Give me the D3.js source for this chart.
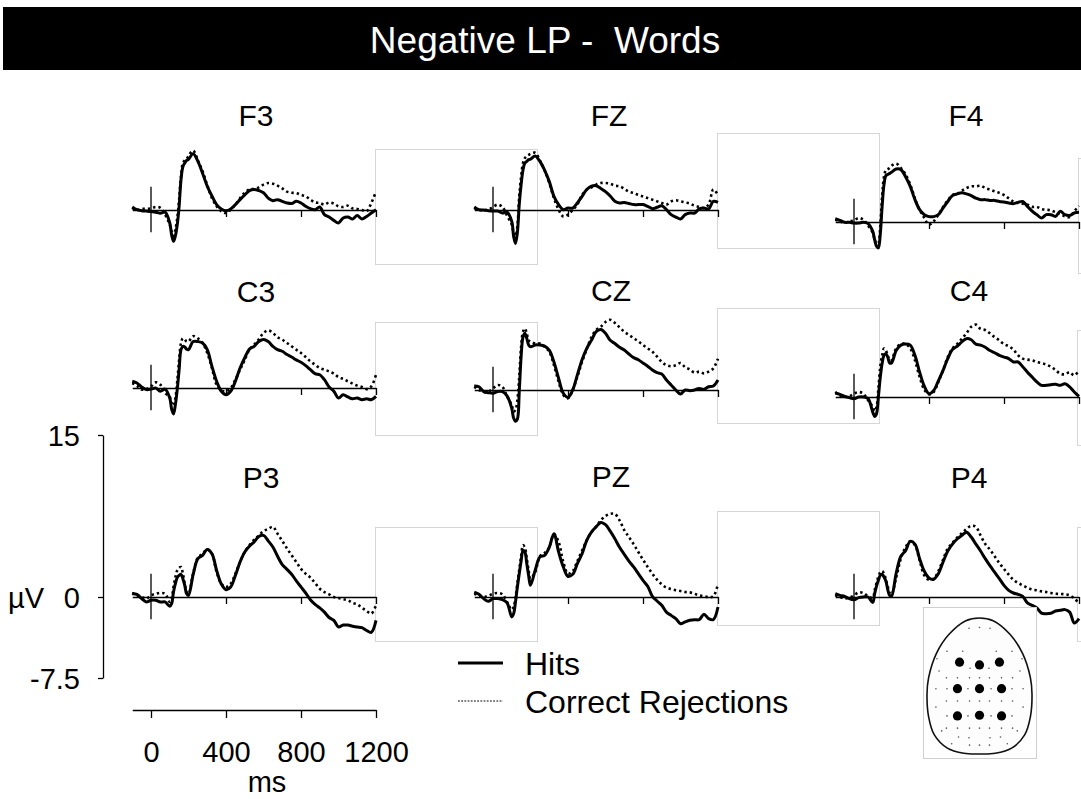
<!DOCTYPE html>
<html>
<head>
<meta charset="utf-8">
<script src="https://cdn.jsdelivr.net/npm/d3@7"></script>
<style>
  body { margin: 0; background: #fff; }
  svg { display: block; }
  text { font-family: "Liberation Sans", Arial, Helvetica, sans-serif; fill: #000; }
</style>
</head>
<body>
<svg id="chart" width="1081" height="799"></svg>
<script>
// ---- Data ---------------------------------------------------------------
const titleText = "Negative LP -  Words";
const seriesNames = ["Hits", "Correct Rejections"];

// sample times (ms) shared by every waveform
const times = [-100,-75,-50,-25,0,25,50,75,
  100,110,120,130,140,150,160,170,180,190,200,
  225,250,275,300,325,350,375,400,425,450,475,500,525,550,575,600,
  625,650,675,700,725,750,775,800,825,850,875,900,925,950,975,1000,
  1025,1050,1075,1100,1125,1150,1175,1200];

// grand-average amplitudes (µV)
const hitsF3 = [0.28,0.03,-0.06,-0.1,-0.15,-0.2,-0.3,-0.2, -1.2,-2.3,-2.9,-2.4,-1.36,0.34,2.8,4.0,4.35,4.6,4.7, 5.2,4.5,3.4,2.2,1.3,0.5,0.1,-0.06, 0.1,0.5,0.96,1.4,1.8,1.9,1.8,1.6, 1.1,0.86,0.96,0.8,0.65,0.6,0.8,0.65, 0.34,0.12,0.03,0.28,-0.43,-0.65,-0.96,-1.2, -0.74,-0.65,-0.83,-0.52,-0.83,-0.6,-0.28,0.03];
const crF3 = [0.2,0.0,0.1,0.1,0.15,0.28,0.2,-0.43, -1.36,-2.0,-2.4,-1.8,-0.74,0.96,3.1,4.35,4.6,4.7,5.0, 5.5,4.6,3.6,2.3,1.1,0.34,-0.12,-0.28, 0.03,0.5,1.1,1.6,1.9,1.95,2.1,2.35, 2.5,2.44,2.25,2.0,1.7,1.6,1.57,1.4, 1.26,0.96,0.7,0.65,0.5,0.7,0.6,0.34, 0.28,0.4,0.15,0.1,0.0,-0.12,0.65,1.7];

const hitsFZ = [0.28,0.03,0.0,-0.06,-0.1,-0.1,-0.28,-0.2, -1.05,-2.45,-3.1,-2.1,0.5,2.35,3.7,4.35,4.5,4.66,4.7, 5.0,4.5,3.7,2.65,1.27,0.5,0.03,0.18, 0.18,0.65,1.27,1.9,2.2,2.25,2.0,1.7, 1.3,0.8,0.65,0.7,0.6,0.5,0.5,0.5, 0.34,0.12,0.25,0.4,0.03,-0.43,-0.65,-0.83, -0.43,-0.28,-0.28,0.1,0.18,0.1,0.8,0.7];
const crFZ = [0.18,0.0,0.0,0.03,0.28,0.5,0.28,-0.52, -1.36,-2.1,-2.4,-1.5,1.27,3.1,4.35,4.8,5.0,5.1,5.2, 5.3,4.6,3.7,2.5,1.1,0.03,-0.6,-0.43, 0.0,0.5,1.4,1.9,2.1,2.35,2.5,2.5, 2.44,2.25,2.2,1.95,1.7,1.57,1.4,1.26, 1.1,0.96,0.8,0.65,0.5,0.8,0.9,0.8, 0.7,0.6,0.4,0.28,0.18,0.5,1.9,1.4];

const hitsF4 = [0.3,0.15,-0.03,-0.03,-0.1,-0.1,-0.03,-0.15, -0.87,-1.64,-2.25,-2.4,-1.17,1.45,3.46,4.3,4.4,4.5,4.6, 4.9,4.85,4.2,3.3,2.07,1.14,0.68,0.5, 0.5,0.68,1.3,1.9,2.44,2.6,2.7,2.6, 2.44,2.2,2.07,2.07,2.0,2.0,1.9,1.85, 1.76,1.7,1.82,1.9,1.45,1.0,0.68,0.37, 0.68,0.68,0.52,1.0,0.68,0.6,0.83,0.9];
const crF4 = [0.2,0.06,-0.1,0.06,0.15,0.37,0.2,-0.34, -1.0,-1.6,-2.0,-1.95,-0.4,2.4,4.2,4.8,4.9,5.0,5.2, 5.4,5.0,4.4,3.46,2.2,1.14,0.37,-0.25, 0.06,0.68,1.4,2.0,2.5,2.6,2.9,3.15, 3.3,3.3,3.36,3.15,3.0,2.84,2.7,2.5, 2.2,1.9,1.76,1.7,1.6,1.4,1.4,1.2, 1.14,1.08,0.9,0.77,0.52,0.46,1.0,1.5];

const hitsC3 = [0.62,0.46,0.1,-0.15,-0.1,0.0,-0.3,-0.1, -0.93,-1.95,-2.4,-1.54,-0.15,1.7,3.55,3.86,3.8,3.6,3.55, 4.3,4.3,4.17,3.55,2.0,0.62,-0.3,-0.62, -0.3,0.62,1.85,2.8,3.6,3.86,4.3,4.48, 4.3,3.86,3.55,3.4,3.1,2.87,2.6,2.38, 2.07,1.7,1.33,1.23,0.77,0.1,-0.3,-0.93, -0.62,-0.83,-1.0,-0.93,-1.08,-1.0,-1.08,-0.77];
const crC3 = [0.46,0.2,-0.15,-0.1,0.15,0.52,0.3,-0.46, -0.83,-1.4,-1.64,-0.93,0.62,2.6,4.17,4.6,4.5,4.3,4.3, 4.8,4.6,4.17,3.24,1.85,0.3,-0.2,-0.3, 0.0,0.77,1.7,2.6,3.55,4.0,4.5,5.1, 5.34,5.1,4.7,4.48,4.17,3.86,3.55,3.24, 2.87,2.47,2.16,1.85,1.7,1.54,1.33,1.0, 0.83,0.62,0.4,0.22,0.1,-0.1,0.15,1.23];

const hitsCZ = [0.37,0.3,-0.15,-0.25,-0.3,-0.15,-0.15,-0.55, -1.7,-2.6,-2.9,-2.7,-0.15,3.1,4.9,5.25,4.8,4.17,4.0, 4.17,4.17,4.07,3.7,2.6,1.08,-0.3,-0.68, 0.0,1.4,2.8,3.86,4.6,5.4,5.6,5.25, 4.6,4.3,3.95,3.7,3.33,3.0,2.8,2.5, 2.2,1.85,1.6,1.48,0.93,0.46,0.0,-0.37, 0.0,-0.06,0.0,0.15,0.06,0.3,0.37,0.93];
const crCZ = [0.3,0.0,-0.15,-0.15,0.15,0.46,0.3,-0.6, -1.4,-2.0,-1.85,-0.93,1.23,4.0,5.4,5.7,5.25,4.6,4.5, 4.3,4.3,4.0,3.55,2.3,0.77,-0.46,-0.77, 0.0,1.23,2.6,3.8,4.9,5.55,5.86,6.3, 6.5,6.2,5.8,5.4,5.1,4.8,4.5,4.17, 3.86,3.55,3.1,2.6,2.3,2.2,2.3,2.5, 2.1,1.9,1.6,1.7,1.54,1.7,2.0,2.9];

const hitsC4 = [0.37,0.25,0.06,-0.06,-0.15,0.0,0.0,-0.15, -1.4,-1.8,-1.54,0.0,1.8,3.1,3.86,4.0,3.7,3.15,3.15, 4.3,4.8,4.9,4.8,3.86,2.3,1.0,0.3, 0.6,1.5,2.47,3.55,4.4,4.7,5.1,5.4, 5.3,4.9,4.8,4.6,4.3,4.1,3.86,3.7, 3.55,3.24,3.24,2.8,2.3,1.85,1.4,1.08, 1.08,1.14,1.17,1.08,1.23,0.93,0.46,0.06];
const crC4 = [0.46,0.15,0.0,0.06,0.3,0.46,0.3,-0.3, -0.93,-1.3,-0.93,0.77,2.8,3.86,4.5,4.3,3.86,3.4,3.4, 4.5,4.9,4.9,4.5,3.4,1.85,0.68,0.25, 0.46,1.4,2.47,3.7,4.5,4.9,5.4,5.9, 6.5,6.7,6.3,6.2,5.9,5.55,5.25,4.9, 4.7,4.4,3.86,3.55,3.46,3.4,3.24,3.15, 3.0,2.8,2.5,2.16,2.1,2.3,2.0,2.47];

const hitsP3 = [0.3,0.25,-0.15,-0.46,-0.3,-0.3,-0.46,-0.46, -0.86,-0.62,0.46,1.23,1.8,2.0,2.1,1.7,1.08,0.3,0.15, 2.1,3.55,3.86,4.4,4.0,2.47,1.2,0.68, 0.93,2.0,3.24,4.17,4.7,5.1,5.6,5.7, 5.2,4.63,3.77,3.0,2.56,2.1,1.5,0.93, 0.37,-0.25,-0.68,-1.0,-1.4,-1.9,-2.16,-2.78, -2.6,-2.6,-2.7,-2.78,-2.84,-3.1,-3.27,-2.16];
const crP3 = [0.37,0.15,0.0,-0.15,0.15,0.3,0.37,0.3, -0.46,-0.15,0.93,1.85,2.47,2.7,2.78,2.16,1.23,0.46,0.3, 2.2,3.64,4.0,4.4,4.0,2.3,1.23,0.93, 1.23,2.16,3.24,4.17,4.8,5.3,5.7,6.1, 6.3,6.5,5.86,5.2,4.5,3.86,3.24,2.6, 2.16,1.8,1.3,0.77,0.46,0.25,0.0,-0.1, -0.2,-0.3,-0.55,-0.68,-1.0,-1.3,-1.54,-0.77];

const hitsPZ = [0.46,0.25,-0.15,-0.4,-0.15,-0.15,-0.25,-0.55, -1.85,-1.54,-0.46,0.93,2.16,3.33,4.3,4.17,3.1,2.0,1.08, 2.47,3.7,3.86,4.6,5.86,4.17,2.78,1.9, 2.1,3.1,4.0,5.25,6.0,6.5,6.9,6.7, 6.1,5.4,4.6,3.95,3.33,2.78,2.16,1.54, 1.0,0.06,-0.37,-0.77,-1.4,-1.7,-2.0,-2.47, -2.3,-2.16,-2.1,-2.1,-1.6,-2.0,-2.1,-0.93];
const crPZ = [0.3,0.15,0.0,0.12,0.3,0.37,0.25,-0.46, -1.17,-0.93,-0.06,1.23,2.53,3.77,4.8,4.57,3.55,2.47,1.7, 2.3,3.77,4.07,4.6,5.8,5.1,3.24,2.16, 2.4,3.33,4.3,5.25,6.0,6.5,7.1,7.5, 7.7,7.7,7.1,6.2,5.55,4.9,4.17,3.46, 2.78,2.16,1.6,1.17,0.86,0.74,0.62,0.55, 0.46,0.43,0.3,0.15,0.06,0.0,0.06,1.23];

const hitsP4 = [0.3,0.15,0.06,-0.15,-0.25,-0.06,0.0,0.0, -0.5,0.3,1.0,1.54,2.0,2.1,1.85,1.48,0.68,0.15,0.06, 2.2,3.77,4.3,5.15,4.9,3.55,2.38,1.76, 1.64,2.16,3.24,4.26,4.9,5.37,5.7,6.0, 5.55,4.9,4.26,3.55,2.9,2.3,1.7,1.08, 0.62,0.37,0.25,0.06,-0.55,-0.77,-1.0,-1.5, -1.54,-1.5,-1.3,-1.23,-1.17,-1.4,-2.4,-2.0];
const crP4 = [0.15,0.0,-0.15,-0.06,0.15,0.43,0.37,0.06, -0.06,0.62,1.3,1.9,2.28,2.4,2.16,1.6,0.98,0.37,0.25, 1.8,3.55,4.6,5.15,4.8,3.4,2.0,1.6, 1.7,2.4,3.46,4.5,5.0,5.5,5.9,6.3, 6.6,6.5,5.7,4.9,4.4,3.77,3.15,2.6, 2.07,1.6,1.3,1.08,0.86,0.7,0.62,0.52, 0.46,0.37,0.3,0.28,0.25,0.15,-0.15,-0.55];

// axis ticks
const timeTicks = [0, 400, 800, 1200];
const ampTicks = [-7.5, 0, 15];

// electrode montage in head-relative units (-1..1); the nine recorded sites are large
const headOutline = [[0,-1],[0.26,-0.96],[0.58,-0.76],[0.82,-0.48],[0.97,-0.12],[1,0.12],[0.97,0.45],[0.86,0.72],[0.62,0.91],[0.3,0.99],[0,1],
  [-0.3,0.99],[-0.62,0.91],[-0.86,0.72],[-0.97,0.45],[-1,0.12],[-0.97,-0.12],[-0.82,-0.48],[-0.58,-0.76],[-0.26,-0.96]];
const siteElectrodes = [[-0.38,-0.35],[0,-0.31],[0.38,-0.35],[-0.42,0.04],[0,0.04],[0.42,0.04],[-0.42,0.44],[0,0.43],[0.42,0.44]];
const otherElectrodes = [[-0.2,-0.85],[0,-0.86],[0.2,-0.85],
  [-0.62,-0.51],[-0.32,-0.51],[0.32,-0.51],[0.62,-0.51],[-0.81,-0.4],[0.81,-0.4],
  [-0.18,-0.26],[0.18,-0.26],[-0.77,-0.22],[0.77,-0.22],
  [-0.63,-0.12],[-0.42,-0.12],[-0.19,-0.12],[0,-0.12],[0.19,-0.12],[0.42,-0.12],[0.63,-0.12],
  [-0.83,0.04],[-0.62,0.04],[-0.22,0.04],[0.22,0.04],[0.62,0.04],[0.83,0.04],
  [-0.63,0.22],[-0.42,0.22],[-0.19,0.22],[0,0.22],[0.19,0.22],[0.42,0.22],[0.63,0.22],
  [-0.83,0.31],[0.83,0.31],[-0.62,0.44],[-0.22,0.44],[0.22,0.44],[0.62,0.44],
  [-0.63,0.62],[-0.42,0.62],[-0.19,0.62],[0,0.62],[0.19,0.62],[0.42,0.62],[0.63,0.62],
  [-0.72,0.66],[0.72,0.66],[-0.4,0.75],[-0.2,0.76],[0.2,0.76],[0.4,0.75],
  [-0.53,0.85],[0.53,0.85],[-0.19,0.87],[0,0.87],[0.19,0.87]];

// ---- Layout -------------------------------------------------------------
const PX_PER_MS = 0.1875;
const PX_PER_UV = 10.8;

const panels = [
  { name: "F3", hits: hitsF3, cr: crF3, x0: 151, y0: 210, tx: 256, ty: 126 },
  { name: "FZ", hits: hitsFZ, cr: crFZ, x0: 493, y0: 210, tx: 609, ty: 126 },
  { name: "F4", hits: hitsF4, cr: crF4, x0: 854, y0: 222, tx: 966, ty: 126 },
  { name: "C3", hits: hitsC3, cr: crC3, x0: 151, y0: 388, tx: 256, ty: 302 },
  { name: "CZ", hits: hitsCZ, cr: crCZ, x0: 493, y0: 390, tx: 611, ty: 301 },
  { name: "C4", hits: hitsC4, cr: crC4, x0: 854, y0: 397, tx: 969, ty: 301 },
  { name: "P3", hits: hitsP3, cr: crP3, x0: 151, y0: 597, tx: 261, ty: 488 },
  { name: "PZ", hits: hitsPZ, cr: crPZ, x0: 493, y0: 597, tx: 611, ty: 487 },
  { name: "P4", hits: hitsP4, cr: crP4, x0: 854, y0: 597, tx: 969, ty: 488 }
];

// faint empty frames left around the panel grid
const frames = [
  [375,149,162,115],[717,133,162,115],[1078,158,20,115],
  [375,322,162,113],[717,308,162,115],[1077,330,20,115],
  [375,527,162,114],[717,511,162,114],[1077,527,20,114]
];

const FONT = "\"Liberation Sans\", Arial, sans-serif";
const svg = d3.select("#chart");
svg.append("rect").attr("width", 1081).attr("height", 799).attr("fill", "#fff");

// title bar
svg.append("rect").attr("x", 3).attr("y", 7).attr("width", 1078).attr("height", 63).attr("fill", "#000");
svg.append("text")
  .attr("x", 545).attr("y", 53)
  .attr("text-anchor", "middle")
  .style("font-size", "37px").style("fill", "#fff").style("white-space", "pre")
  .text(titleText);

// frames
svg.append("g").selectAll("rect").data(frames).join("rect")
  .attr("x", d => d[0] + 0.5).attr("y", d => d[1] + 0.5)
  .attr("width", d => d[2]).attr("height", d => d[3])
  .attr("fill", "none").attr("stroke", "#d6d6d6").attr("stroke-width", 1);

// ---- Panels -------------------------------------------------------------
panels.forEach(p => {
  const x = d3.scaleLinear().domain([-100, 1200])
    .range([p.x0 - 100 * PX_PER_MS, p.x0 + 1200 * PX_PER_MS]);
  const y = d3.scaleLinear().domain([-7.5, 15])
    .range([p.y0 + 7.5 * PX_PER_UV, p.y0 - 15 * PX_PER_UV]);
  const g = svg.append("g");

  g.append("text").attr("x", p.tx).attr("y", p.ty)
    .attr("text-anchor", "middle").style("font-size", "30px").text(p.name);

  // zero line with time ticks
  const ax = g.append("g").attr("transform", `translate(0,${p.y0})`)
    .call(d3.axisBottom(x).tickValues([400, 800, 1200]).tickSize(7).tickSizeOuter(0).tickFormat(""));
  ax.select(".domain").attr("stroke", "#000").attr("stroke-width", 1.3);
  ax.selectAll(".tick line").attr("stroke", "#000").attr("stroke-width", 1.3);

  // stimulus onset marker
  g.append("line")
    .attr("x1", x(0)).attr("x2", x(0))
    .attr("y1", y(2.15)).attr("y2", y(-2.05))
    .attr("stroke", "#000").attr("stroke-width", 1.3);

  const line = d3.line()
    .x((d, i) => x(times[i]))
    .y(d => y(d))
    .curve(d3.curveCatmullRom.alpha(0.5));

  g.append("path").datum(p.cr).attr("d", line)
    .attr("fill", "none").attr("stroke", "#000")
    .attr("stroke-width", 2.6).attr("stroke-dasharray", "2.4 3");
  g.append("path").datum(p.hits).attr("d", line)
    .attr("fill", "none").attr("stroke", "#000")
    .attr("stroke-width", 3).attr("stroke-linejoin", "round");
});

// ---- Scale bars -----------------------------------------------------------
const yAxisScale = d3.scaleLinear().domain([-7.5, 15]).range([678, 435]);
const yAx = svg.append("g").attr("transform", "translate(103,0)")
  .call(d3.axisLeft(yAxisScale).tickValues(ampTicks).tickSize(5).tickSizeOuter(0)
    .tickPadding(18).tickFormat(d => d));
yAx.select(".domain").attr("stroke", "#000").attr("stroke-width", 1.3);
yAx.selectAll(".tick line").attr("stroke", "#000").attr("stroke-width", 1.3);
yAx.selectAll(".tick text").style("font-size", "29px").style("font-family", FONT).attr("dy", "0.36em");
svg.append("text").attr("x", 8).attr("y", 608).style("font-size", "29px").text("µV");

const xAxisScale = d3.scaleLinear().domain([-100, 1200])
  .range([151 - 100 * PX_PER_MS, 151 + 1200 * PX_PER_MS]);
const xAx = svg.append("g").attr("transform", "translate(0,710)")
  .call(d3.axisBottom(xAxisScale).tickValues(timeTicks).tickSize(8).tickSizeOuter(0)
    .tickPadding(23).tickFormat(d => d));
xAx.select(".domain").attr("stroke", "#000").attr("stroke-width", 1.3);
xAx.selectAll(".tick line").attr("stroke", "#000").attr("stroke-width", 1.3);
xAx.selectAll(".tick text").style("font-size", "29px").style("font-family", FONT);
svg.append("text").attr("x", 267).attr("y", 792).attr("text-anchor", "middle")
  .style("font-size", "29px").text("ms");

// ---- Legend -------------------------------------------------------------
const legend = svg.append("g");
legend.append("line").attr("x1", 458).attr("x2", 503).attr("y1", 663).attr("y2", 663)
  .attr("stroke", "#000").attr("stroke-width", 2.8);
legend.append("text").attr("x", 525).attr("y", 675).style("font-size", "32px").text(seriesNames[0]);
legend.append("line").attr("x1", 458).attr("x2", 503).attr("y1", 701).attr("y2", 701)
  .attr("stroke", "#000").attr("stroke-width", 1.1).attr("stroke-dasharray", "1.8 1.4");
legend.append("text").attr("x", 525).attr("y", 713).style("font-size", "32px").text(seriesNames[1]);

// ---- Head map -----------------------------------------------------------
const head = svg.append("g");
head.append("rect").attr("x", 923.5).attr("y", 607.5).attr("width", 113).attr("height", 151)
  .attr("fill", "#fff").attr("stroke", "#cfcfcf");
const hx = d3.scaleLinear().domain([-1, 1]).range([927, 1032]);
const hy = d3.scaleLinear().domain([-1, 1]).range([618, 754]);
head.append("path")
  .datum(headOutline)
  .attr("d", d3.line().x(d => hx(d[0])).y(d => hy(d[1])).curve(d3.curveCatmullRomClosed.alpha(0.5)))
  .attr("fill", "#fdfdfd").attr("stroke", "#111").attr("stroke-width", 1.6);
head.selectAll("circle.small").data(otherElectrodes).join("circle").attr("class", "small")
  .attr("cx", d => hx(d[0])).attr("cy", d => hy(d[1])).attr("r", 0.8).attr("fill", "#555");
head.selectAll("circle.site").data(siteElectrodes).join("circle").attr("class", "site")
  .attr("cx", d => hx(d[0])).attr("cy", d => hy(d[1])).attr("r", 4.6).attr("fill", "#000");
</script>
</body>
</html>
